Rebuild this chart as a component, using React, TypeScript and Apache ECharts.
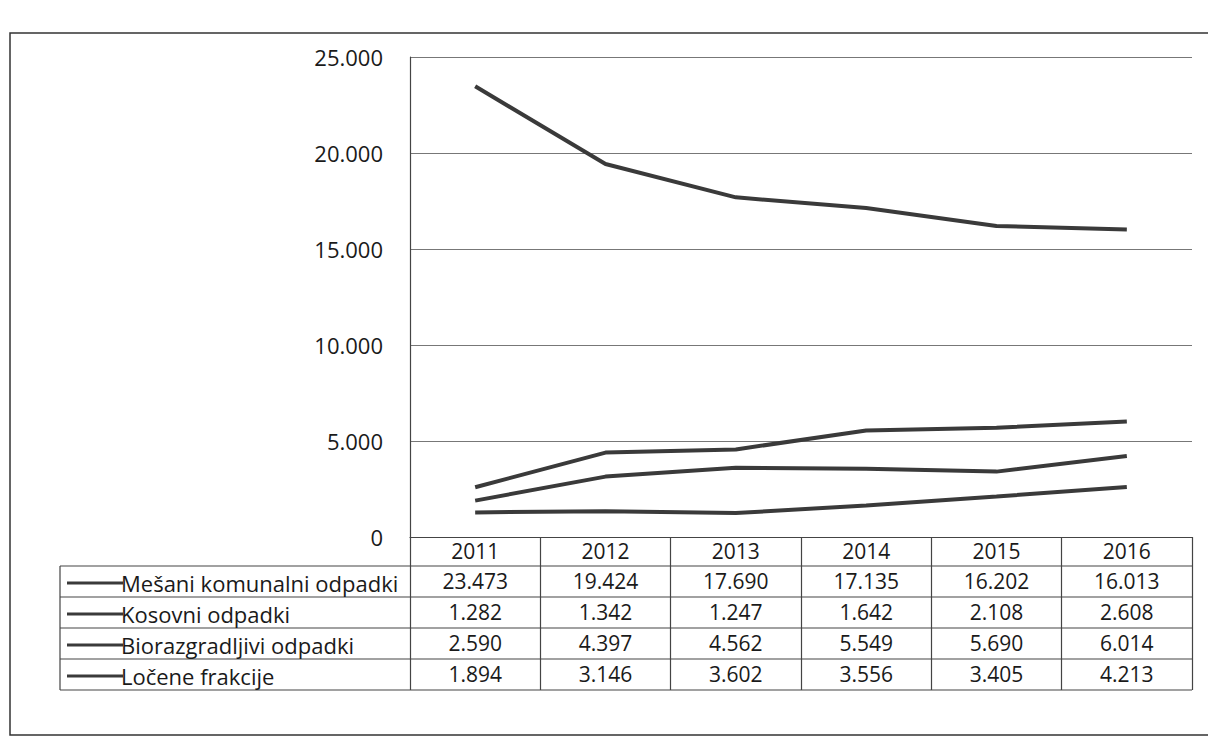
import React, { useEffect, useRef } from "react";
import * as echarts from "echarts";

const years = ["2011", "2012", "2013", "2014", "2015", "2016"];
const seriesNames = [
  "Mešani komunalni odpadki",
  "Kosovni odpadki",
  "Biorazgradljivi odpadki",
  "Ločene frakcije",
];
const mesani = [23473, 19424, 17690, 17135, 16202, 16013];
const kosovni = [1282, 1342, 1247, 1642, 2108, 2608];
const bio = [2590, 4397, 4562, 5549, 5690, 6014];
const locene = [1894, 3146, 3602, 3556, 3405, 4213];
const allValues = [mesani, kosovni, bio, locene];

const fmt = (v: number) => {
  const s = String(Math.round(v));
  return s.replace(/\B(?=(\d{3})+(?!\d))/g, ".");
};

const FONT = "Open Sans";
const TXT = "#1a1a1a";
const LINE = "#3a3a3a";

export default function App() {
  const ref = useRef<HTMLDivElement>(null);
  useEffect(() => {
    document.body.style.margin = "0";
    const chart = echarts.init(ref.current!, null, { renderer: "svg" });
    const gridLeft = 410;
    const gridRight = 1192;
    const axisY = 537;
    const headerH = 29;
    const rowH = 31;
    const tableBottom = axisY + headerH + rowH * 4;

    const valueAxes = allValues.map((vals, i) => ({
      type: "category",
      position: "bottom",
      gridIndex: 0,
      offset: headerH + rowH * i,
      data: vals.map(fmt),
      boundaryGap: true,
      axisLine: { show: false },
      axisTick: { show: false },
      axisLabel: {
        margin: 4,
        fontFamily: FONT,
        fontSize: 21,
        lineHeight: 22,
        color: TXT,
        interval: 0,
      },
    }));

    const hLines: any[] = [];
    for (let i = 0; i <= 4; i++) {
      const y = axisY + headerH + rowH * i;
      hLines.push({
        type: "line",
        shape: { x1: 60, y1: y, x2: gridRight, y2: y },
        style: { stroke: "#444", lineWidth: 1.2 },
      });
    }

    chart.setOption({
      animation: false,
      backgroundColor: "#fff",
      grid: {
        left: gridLeft,
        right: 1208 - gridRight,
        top: 57,
        bottom: 737 - axisY,
        containLabel: false,
      },
      legend: {
        orient: "vertical",
        left: 62,
        top: axisY + headerH + 1,
        itemWidth: 56,
        itemHeight: 3,
        itemGap: 9,
        icon: "rect",
        data: seriesNames,
        textStyle: {
          fontFamily: FONT,
          fontSize: 22,
          lineHeight: 22,
          color: TXT,
          padding: [0, 0, 0, -7],
        },
        selectedMode: false,
      },
      xAxis: [
        {
          type: "category",
          position: "bottom",
          data: years,
          boundaryGap: true,
          axisLine: { show: true, lineStyle: { color: "#444", width: 1.2 } },
          axisTick: {
            show: true,
            length: tableBottom - axisY,
            lineStyle: { color: "#444", width: 1.2 },
          },
          axisLabel: {
            margin: 3,
            fontFamily: FONT,
            fontSize: 21,
            lineHeight: 22,
            color: TXT,
            interval: 0,
          },
        },
        ...valueAxes,
      ],
      yAxis: {
        type: "value",
        min: 0,
        max: 25000,
        interval: 5000,
        axisLine: { show: true, lineStyle: { color: "#444", width: 1.2 } },
        axisTick: { show: false },
        splitLine: { lineStyle: { color: "#777", width: 1 } },
        axisLabel: {
          margin: 27,
          fontFamily: FONT,
          fontSize: 22,
          color: TXT,
          formatter: (v: number) => fmt(v),
        },
      },
      series: allValues.map((vals, i) => ({
        name: seriesNames[i],
        type: "line",
        xAxisIndex: 0,
        data: vals,
        symbol: "none",
        showSymbol: false,
        lineStyle: { color: LINE, width: 4 },
        itemStyle: { color: LINE },
      })),
      graphic: [
        {
          type: "rect",
          shape: { x: 10, y: 33, width: 1220, height: 702 },
          style: { fill: "none", stroke: "#333", lineWidth: 1.5 },
        },
        {
          type: "line",
          shape: { x1: 60, y1: axisY + headerH, x2: 60, y2: tableBottom },
          style: { stroke: "#444", lineWidth: 1.2 },
        },
        ...hLines,
      ],
    });
    return () => chart.dispose();
  }, []);
  return (
    <div
      ref={ref}
      style={{ position: "fixed", left: 0, top: 0, width: 1208, height: 737 }}
    />
  );
}
